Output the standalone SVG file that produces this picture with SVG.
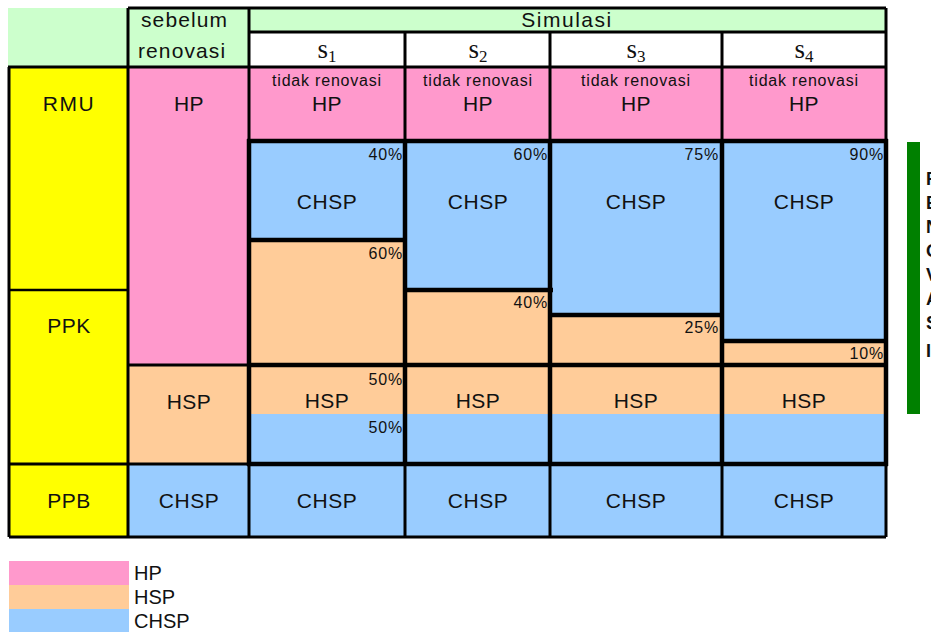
<svg xmlns="http://www.w3.org/2000/svg" width="931" height="632" viewBox="0 0 931 632">
<style>
.hp{fill:#FF99CC}.hsp{fill:#FFCC99}.chsp{fill:#99CCFF}.yel{fill:#FFFF00}.grn{fill:#CCFFCC}.wht{fill:#FFFFFF}
text{font-family:"Liberation Sans",Arial,sans-serif;fill:#111}
.lb{font-size:21px;text-anchor:middle;letter-spacing:0.5px}
.sm{font-size:16px;letter-spacing:0.8px}
.mid{text-anchor:middle}
.end{text-anchor:end}
.hd{font-size:21px;letter-spacing:1.1px}
.s{font-family:"Liberation Serif","Times New Roman",serif;font-size:27px;text-anchor:middle}
.thin{stroke:#000;stroke-width:3;fill:none}
.thick{stroke:#000;stroke-width:4.5;fill:none}
.vt{font-size:18px;font-weight:bold}
</style>
<rect width="931" height="632" fill="#FFFFFF"/>
<g id="header">
<rect class="grn" x="8" y="8" width="120" height="59"/>
<rect class="grn" x="128" y="8" width="121" height="59"/>
<rect class="grn" x="249" y="8" width="637" height="24"/>
<rect class="wht" x="249" y="32" width="637" height="35"/>
<text class="hd" x="141" y="27">sebelum</text>
<text class="hd" x="138" y="58">renovasi</text>
<text class="hd mid" x="567" y="27" style="letter-spacing:1.5px">Simulasi</text>
<text class="s" x="327" y="58">s<tspan font-size="17" dy="4">1</tspan></text>
<text class="s" x="478" y="58">s<tspan font-size="17" dy="4">2</tspan></text>
<text class="s" x="636" y="58">s<tspan font-size="17" dy="4">3</tspan></text>
<text class="s" x="804" y="58">s<tspan font-size="17" dy="4">4</tspan></text>
</g>
<g id="rowlabels">
<rect class="yel" x="9" y="67" width="119" height="470"/>
<text class="lb" x="69" y="111" style="letter-spacing:1.5px">RMU</text>
<text class="lb" x="69" y="333">PPK</text>
<text class="lb" x="69" y="508">PPB</text>
</g>
<g id="sebelum">
<rect class="hp" x="128" y="67" width="121" height="298"/>
<rect class="hsp" x="128" y="365" width="121" height="99"/>
<rect class="chsp" x="128" y="464" width="121" height="73"/>
<text class="lb" x="189" y="111">HP</text>
<text class="lb" x="189" y="409">HSP</text>
<text class="lb" x="189" y="508">CHSP</text>
</g>
<g id="s1">
<rect class="hp" x="249" y="67" width="156" height="74"/>
<rect class="chsp" x="249" y="141" width="156" height="99"/>
<rect class="hsp" x="249" y="240" width="156" height="125"/>
<text class="sm mid" x="327" y="86">tidak renovasi</text>
<text class="lb" x="327" y="111">HP</text>
<text class="sm end" x="403" y="160">40%</text>
<text class="lb" x="327" y="209">CHSP</text>
<text class="sm end" x="403" y="259">60%</text>
</g>
<g id="s2">
<rect class="hp" x="405" y="67" width="145" height="74"/>
<rect class="chsp" x="405" y="141" width="145" height="149"/>
<rect class="hsp" x="405" y="290" width="145" height="75"/>
<text class="sm mid" x="478" y="86">tidak renovasi</text>
<text class="lb" x="478" y="111">HP</text>
<text class="sm end" x="548" y="160">60%</text>
<text class="lb" x="478" y="209">CHSP</text>
<text class="sm end" x="548" y="308">40%</text>
</g>
<g id="s3">
<rect class="hp" x="550" y="67" width="172" height="74"/>
<rect class="chsp" x="550" y="141" width="172" height="174"/>
<rect class="hsp" x="550" y="315" width="172" height="50"/>
<text class="sm mid" x="636" y="86">tidak renovasi</text>
<text class="lb" x="636" y="111">HP</text>
<text class="sm end" x="719" y="160">75%</text>
<text class="lb" x="636" y="209">CHSP</text>
<text class="sm end" x="719" y="333">25%</text>
</g>
<g id="s4">
<rect class="hp" x="722" y="67" width="164" height="74"/>
<rect class="chsp" x="722" y="141" width="164" height="200"/>
<rect class="hsp" x="722" y="341" width="164" height="24"/>
<text class="sm mid" x="804" y="86">tidak renovasi</text>
<text class="lb" x="804" y="111">HP</text>
<text class="sm end" x="884" y="160">90%</text>
<text class="lb" x="804" y="209">CHSP</text>
<text class="sm end" x="884" y="359">10%</text>
</g>
<g id="hsprow">
<rect class="hsp" x="249" y="365" width="637" height="49"/>
<rect class="chsp" x="249" y="414" width="637" height="50"/>
<text class="sm end" x="403" y="385">50%</text>
<text class="lb" x="327" y="408">HSP</text>
<text class="sm end" x="403" y="433">50%</text>
<text class="lb" x="478" y="408">HSP</text>
<text class="lb" x="636" y="408">HSP</text>
<text class="lb" x="804" y="408">HSP</text>
</g>
<g id="ppbrow">
<rect class="chsp" x="249" y="464" width="637" height="73"/>
<text class="lb" x="327" y="508">CHSP</text>
<text class="lb" x="478" y="508">CHSP</text>
<text class="lb" x="636" y="508">CHSP</text>
<text class="lb" x="804" y="508">CHSP</text>
</g>
<g id="gridlines">
<path class="thin" d="M128 8H886M249 32H886M8 67H886M128 8V537M249 8V141M249 464V537M405 32V141M405 464V537M550 32V141M550 464V537M722 32V141M722 464V537M886 8V141M886 464V537M9 67V537M128 365H249M9 464H249M9 537H886"/>
<path d="M9 290H128" stroke="#000" stroke-width="2.5"/>
<path class="thick" d="M247 141H888M247 365H888M247 464H888M249 139V466M405 139V466M550 139V466M722 139V466M886 139V466M249 240H405M405 290H553M550 315H722M722 341H886"/>
</g>
<g id="sidebar">
<rect x="907" y="142" width="13" height="272" fill="#008000"/>
<text class="vt" x="926" y="185">R</text>
<text class="vt" x="926" y="209">E</text>
<text class="vt" x="926" y="233">N</text>
<text class="vt" x="926" y="257">O</text>
<text class="vt" x="926" y="281">V</text>
<text class="vt" x="926" y="305">A</text>
<text class="vt" x="926" y="329">S</text>
<text class="vt" x="926" y="357">I</text>
</g>
<g id="legend">
<rect class="hp" x="9" y="561" width="120" height="24"/>
<rect class="hsp" x="9" y="585" width="120" height="24"/>
<rect class="chsp" x="9" y="609" width="120" height="23"/>
<text x="134" y="580" font-size="20">HP</text>
<text x="134" y="604" font-size="20">HSP</text>
<text x="134" y="628" font-size="20">CHSP</text>
</g>
</svg>
